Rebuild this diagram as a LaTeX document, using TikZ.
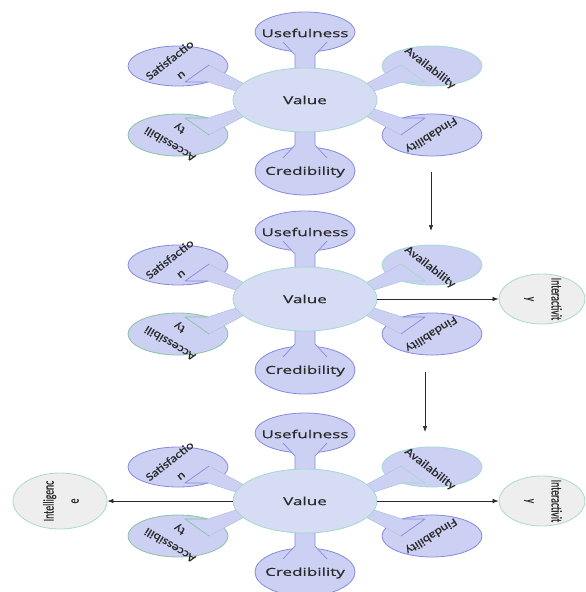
\documentclass[tikz,border=0pt]{standalone}
\usepackage{fontspec}
\setmainfont{Open Sans}
% horizontal labels are set wide, diagonal ones slightly wide, upright ones narrow
\newfontfamily\widefont[FakeStretch=1.55, FakeBold=0.6]{Open Sans}
\newfontfamily\slantfont[FakeStretch=1.2, FakeBold=0.4]{Carlito}
\newfontfamily\tallfont[FakeStretch=0.645, FakeBold=0.5]{Carlito}
\usetikzlibrary{shapes.geometric,arrows.meta}

\definecolor{petalfill}{HTML}{CCD0F2}
\definecolor{valuefill}{HTML}{D5DCF3}
\definecolor{violetline}{HTML}{868ADE}
\definecolor{tealline}{HTML}{A2D9D0}
\definecolor{greenline}{HTML}{86C4A2}
\definecolor{bandline}{HTML}{B6BBEA}
\definecolor{bubblefill}{HTML}{EEEEEE}
\definecolor{bubbleline}{HTML}{A9DCC6}
\definecolor{ink}{HTML}{2A2A2A}

\tikzset{
  petal/.style={ellipse, draw=#1, fill=petalfill, line width=0.8pt, inner sep=0pt,
                minimum width=100pt, minimum height=40pt},
  corebubble/.style={ellipse, draw=tealline, fill=valuefill, line width=0.8pt, inner sep=0pt,
                minimum width=144pt, minimum height=64pt},
  sidebubble/.style={ellipse, draw=bubbleline, fill=bubblefill, line width=0.8pt, inner sep=0pt,
                minimum width=86pt, minimum height=50pt},
  hlabel/.style={text=ink, font=\widefont\fontsize{11}{13}\selectfont, inner sep=0pt},
  dlabel/.style={text=ink, font=\slantfont\fontsize{11.5}{18}\selectfont, align=center, inner sep=0pt},
  vlabel/.style={text=ink, font=\tallfont\fontsize{15}{25}\selectfont, align=center, inner sep=0pt},
  funnelside/.style={draw=#1, line width=0.7pt, line join=round},
  bandside/.style={draw=bandline, line width=0.5pt},
  flowarrow/.style={draw=ink, line width=0.7pt, -{Latex[length=6pt,width=4.5pt]}},
}

% neck joining the centre to the upper (#1=-1) or lower (#1=1) petal
\newcommand{\vfunnel}[2]{%
  \fill[petalfill] (-10,{#1*22}) -- (-10,{#1*45}) -- (-22,{#1*58}) -- (22,{#1*58})
     -- (10,{#1*45}) -- (10,{#1*22}) -- cycle;
  \draw[funnelside=#2] (-10,{#1*28}) -- (-10,{#1*45}) -- (-22,{#1*58});
  \draw[funnelside=#2] (10,{#1*28}) -- (10,{#1*45}) -- (22,{#1*58});}

% band and wedge joining the centre to a diagonal petal
\newcommand{\sidefunnel}[3]{%
  \fill[petalfill] ({#1*55},{#2*13}) -- ({#1*96},{#2*35}) -- ({#1*120},{#2*18})
     -- ({#1*97},{#2*18}) -- ({#1*60},{#2*6}) -- cycle;
  \draw[bandside] ({#1*55},{#2*13}) -- ({#1*96},{#2*35});
  \draw[bandside] ({#1*97},{#2*18}) -- ({#1*60},{#2*6});
  \draw[funnelside=#3] ({#1*96},{#2*35}) -- ({#1*120},{#2*18}) -- ({#1*97},{#2*18});}

% one Value flower: #1 name prefix, #2 vertical position of its centre
\newcommand{\valuecluster}[2]{%
  \begin{scope}[shift={(305,#2)}]
    \node[petal=violetline] (#1use) at (0,-68) {};
    \node[petal=violetline, minimum height=48pt] (#1cred) at (0,71) {};
    \node[petal=violetline] (#1sat) at (-127,-34) {};
    \node[petal=greenline, minimum height=42pt] (#1acc) at (-127,35) {};
    \node[petal=tealline] (#1avl) at (127,-34) {};
    \node[petal=violetline, minimum height=42pt] (#1fnd) at (127,35) {};
    \vfunnel{-1}{violetline}
    \vfunnel{1}{violetline}
    \sidefunnel{-1}{-1}{violetline}
    \sidefunnel{-1}{1}{greenline}
    \sidefunnel{1}{-1}{tealline}
    \sidefunnel{1}{1}{violetline}
    \node[corebubble] (#1val) at (0,0) {};
    \node[hlabel] (#1valL) at (0,0) {Value};
    \node[hlabel] (#1useL) at (0,-67) {Usefulness};
    \node[hlabel] (#1credL) at (0,72) {Credibility};
    \node[dlabel, rotate=38] (#1satL) at (-130,-33) {Satisfactio\\n};
    \node[dlabel, rotate=149] (#1accL) at (-130,36) {Accessibili\\ty};
    \node[dlabel, rotate=-38] (#1avlL) at (125,-32) {Availability};
    \node[dlabel, rotate=-148] (#1fndL) at (126,35) {Findability};
  \end{scope}}

\begin{document}
\begin{tikzpicture}[x=1pt, y=-1pt]
  \useasboundingbox (0,0) rectangle (586,592);
  \fill[white] (0,0) rectangle (586,592);

  \valuecluster{t}{100}
  \valuecluster{m}{299}
  \valuecluster{b}{501}

  % outer bubbles, level with the centre they leave from
  \node[sidebubble] (mint) at (542,299) {};
  \node[vlabel, rotate=-90] (mintL) at (543,299) {Interactivit\\y};
  \node[sidebubble] (bint) at (542,501) {};
  \node[vlabel, rotate=-90] (bintL) at (543,501) {Interactivit\\y};
  \node[sidebubble, minimum width=94pt, minimum height=56pt] (bintl) at (60,501) {};
  \node[vlabel, rotate=90] (bintlL) at (61,501) {Intelligenc\\e};

  % steps between the flowers
  \coordinate (d1s) at (431,172);
  \coordinate (d1e) at (431,231);
  \coordinate (d2s) at (425,372);
  \coordinate (d2e) at (425,432);
  \draw[flowarrow] (d1s) -- (d1e);
  \draw[flowarrow] (d2s) -- (d2e);

  % arrows out of the centre
  \draw[flowarrow] (mval.east) -- (mint.west);
  \draw[flowarrow] (bval.east) -- (bint.west);
  \draw[flowarrow] (bval.west) -- (bintl.east);
\end{tikzpicture}
\end{document}
